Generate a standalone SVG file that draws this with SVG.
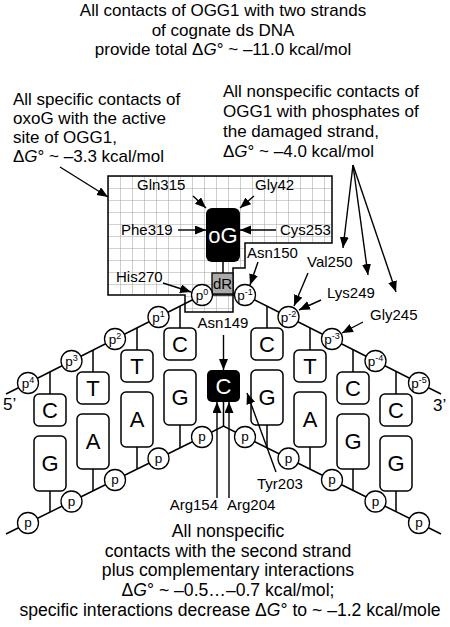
<svg xmlns="http://www.w3.org/2000/svg" width="450" height="627" viewBox="0 0 450 627">
<style>
text{font-family:"Liberation Sans",Arial,sans-serif;fill:#000}
.t{font-size:17px}
.tb{font-size:17.6px;text-anchor:middle}
.lab{font-size:15px}
.base{font-size:22px;text-anchor:middle}
.box{fill:#fff;stroke:#000;stroke-width:1.5}
.ph{fill:#fff;stroke:#000;stroke-width:1.3}
.pt{font-size:13.5px;text-anchor:middle}
.sup{font-size:9px}
.strand{fill:none;stroke:#000;stroke-width:1.5}
.arr{fill:none;stroke:#000;stroke-width:1.4;marker-end:url(#ah)}
</style>
<defs>
<marker id="ah" markerUnits="userSpaceOnUse" markerWidth="12" markerHeight="10" refX="11" refY="4.5" orient="auto">
<path d="M0,0 L11,4.5 L0,9 z" fill="#000"/>
</marker>
<pattern id="grid" patternUnits="userSpaceOnUse" x="108" y="176" width="12" height="12">
<rect width="12" height="12" fill="#fff"/>
<path d="M0,0 H12 M0,0 V12" stroke="#a6a6a6" stroke-width="1.1"/>
</pattern>
</defs>
<rect width="450" height="627" fill="#fff"/>

<g id="title">
<text class="t" x="223" y="16" text-anchor="middle">All contacts of OGG1 with two strands</text>
<text class="t" x="223" y="35.5" text-anchor="middle">of cognate ds DNA</text>
<text class="t" x="223" y="54.5" text-anchor="middle">provide total Δ<tspan font-style="italic">G</tspan>° ~ –11.0 kcal/mol</text>
</g>
<g id="specific-note">
<text class="t" x="13" y="105">All specific contacts of</text>
<text class="t" x="13" y="124">oxoG with the active</text>
<text class="t" x="13" y="143">site of OGG1,</text>
<text class="t" x="13" y="162">Δ<tspan font-style="italic">G</tspan>° ~ –3.3 kcal/mol</text>
</g>
<g id="nonspecific-note">
<text class="t" x="223" y="97">All nonspecific contacts of</text>
<text class="t" x="223" y="117">OGG1 with phosphates of</text>
<text class="t" x="223" y="137">the damaged strand,</text>
<text class="t" x="223" y="157">Δ<tspan font-style="italic">G</tspan>° ~ –4.0 kcal/mol</text>
</g>
<g id="second-strand-note">
<text class="tb" x="228" y="537">All nonspecific</text>
<text class="tb" x="228" y="557">contacts with the second strand</text>
<text class="tb" x="228" y="576">plus complementary interactions</text>
<text class="tb" x="228" y="596">Δ<tspan font-style="italic">G</tspan>° ~ –0.5…–0.7 kcal/mol;</text>
<text class="tb" x="230" y="616">specific interactions decrease Δ<tspan font-style="italic">G</tspan>° to ~ –1.2 kcal/mole</text>
</g>

<g id="active-site">
<path d="M108,176 H332 V243 H245 V268 H233 V312 H185 V295 H108 Z" fill="url(#grid)" stroke="#000" stroke-width="1.5"/>
</g>

<g id="strands">
<polyline class="strand" points="6,394 28,383 71.5,361 115,339 158.5,317 202,295 245,295 288.5,317 332,339 375.5,361 419,383 441,394"/>
<polyline class="strand" points="6,534 28,523 71.5,501.5 115,480 158.5,458.5 202,437 223.5,426 245,437 288.5,458.5 332,480 375.5,501.5 419,523 441,534"/>
<path class="strand" d="M180,306 V328 M137,328 V350 M93,350 V372 M50,372 V394 M267,306 V328 M310,328 V350 M353,350 V372 M396,372 V394"/>
<path class="strand" d="M180,425 V448 M137,447 V469 M93,469 V491 M50,491 V512 M267,425 V448 M310,447 V469 M353,469 V491 M396,491 V512 M223.5,402 V426"/>
<line class="strand" x1="223" y1="262" x2="223" y2="273"/>
</g>

<g id="oG">
<rect x="206" y="208" width="34" height="54" rx="6" fill="#000"/>
<text class="base" x="223" y="243" font-size="23" style="fill:#fff">oG</text>
</g>
<g id="dR">
<rect x="212" y="273" width="21" height="21" fill="#aaa" stroke="#000" stroke-width="1.3"/>
<text x="222.5" y="289" font-size="15" text-anchor="middle">dR</text>
</g>

<g id="bases-upper-left">
<rect class="box" x="164" y="328" width="32" height="32" rx="5"/><text class="base" x="180" y="352">C</text>
<rect class="box" x="121" y="350" width="32" height="32" rx="5"/><text class="base" x="137" y="374">T</text>
<rect class="box" x="77" y="372" width="32" height="32" rx="5"/><text class="base" x="93" y="396">T</text>
<rect class="box" x="34" y="394" width="32" height="32" rx="5"/><text class="base" x="50" y="418">C</text>
</g>
<g id="bases-upper-right">
<rect class="box" x="251" y="328" width="32" height="32" rx="5"/><text class="base" x="267" y="352">C</text>
<rect class="box" x="294" y="350" width="32" height="32" rx="5"/><text class="base" x="310" y="374">T</text>
<rect class="box" x="337" y="372" width="32" height="32" rx="5"/><text class="base" x="353" y="396">C</text>
<rect class="box" x="380" y="394" width="32" height="32" rx="5"/><text class="base" x="396" y="418">C</text>
</g>
<g id="bases-lower-left">
<rect class="box" x="164" y="370" width="32" height="55" rx="5"/><text class="base" x="180" y="405">G</text>
<rect class="box" x="121" y="392" width="32" height="55" rx="5"/><text class="base" x="137" y="427">A</text>
<rect class="box" x="77" y="414" width="32" height="55" rx="5"/><text class="base" x="93" y="449">A</text>
<rect class="box" x="34" y="436" width="32" height="55" rx="5"/><text class="base" x="50" y="471">G</text>
</g>
<g id="bases-lower-right">
<rect class="box" x="251" y="370" width="32" height="55" rx="5"/><text class="base" x="267" y="405">G</text>
<rect class="box" x="294" y="392" width="32" height="55" rx="5"/><text class="base" x="310" y="427">A</text>
<rect class="box" x="337" y="414" width="32" height="55" rx="5"/><text class="base" x="353" y="449">G</text>
<rect class="box" x="380" y="436" width="32" height="55" rx="5"/><text class="base" x="396" y="471">G</text>
</g>
<g id="C-opposite">
<rect x="207" y="370" width="33" height="32" rx="5" fill="#000"/>
<text class="base" x="223.5" y="394" style="fill:#fff">C</text>
</g>

<g id="phosphates-top">
<circle class="ph" cx="202" cy="295" r="10.5"/><text class="pt" x="202" y="299.5">p<tspan class="sup" dy="-5">0</tspan></text>
<circle class="ph" cx="158.5" cy="317" r="10.5"/><text class="pt" x="158.5" y="321.5">p<tspan class="sup" dy="-5">1</tspan></text>
<circle class="ph" cx="115" cy="339" r="10.5"/><text class="pt" x="115" y="343.5">p<tspan class="sup" dy="-5">2</tspan></text>
<circle class="ph" cx="71.5" cy="361" r="10.5"/><text class="pt" x="71.5" y="365.5">p<tspan class="sup" dy="-5">3</tspan></text>
<circle class="ph" cx="28" cy="383" r="10.5"/><text class="pt" x="28" y="387.5">p<tspan class="sup" dy="-5">4</tspan></text>
<circle class="ph" cx="245" cy="295" r="10.5"/><text class="pt" x="245" y="299.5">p<tspan class="sup" dy="-5">-1</tspan></text>
<circle class="ph" cx="288.5" cy="317" r="10.5"/><text class="pt" x="288.5" y="321.5">p<tspan class="sup" dy="-5">-2</tspan></text>
<circle class="ph" cx="332" cy="339" r="10.5"/><text class="pt" x="332" y="343.5">p<tspan class="sup" dy="-5">-3</tspan></text>
<circle class="ph" cx="375.5" cy="361" r="10.5"/><text class="pt" x="375.5" y="365.5">p<tspan class="sup" dy="-5">-4</tspan></text>
<circle class="ph" cx="419" cy="383" r="10.5"/><text class="pt" x="419" y="387.5">p<tspan class="sup" dy="-5">-5</tspan></text>
</g>
<g id="phosphates-bottom">
<circle class="ph" cx="202" cy="437" r="10.5"/><text class="pt" x="202" y="441">p</text>
<circle class="ph" cx="158.5" cy="458.5" r="10.5"/><text class="pt" x="158.5" y="462.5">p</text>
<circle class="ph" cx="115" cy="480" r="10.5"/><text class="pt" x="115" y="484">p</text>
<circle class="ph" cx="71.5" cy="501.5" r="10.5"/><text class="pt" x="71.5" y="505.5">p</text>
<circle class="ph" cx="28" cy="523" r="10.5"/><text class="pt" x="28" y="527">p</text>
<circle class="ph" cx="245" cy="437" r="10.5"/><text class="pt" x="245" y="441">p</text>
<circle class="ph" cx="288.5" cy="458.5" r="10.5"/><text class="pt" x="288.5" y="462.5">p</text>
<circle class="ph" cx="332" cy="480" r="10.5"/><text class="pt" x="332" y="484">p</text>
<circle class="ph" cx="375.5" cy="501.5" r="10.5"/><text class="pt" x="375.5" y="505.5">p</text>
<circle class="ph" cx="419" cy="523" r="10.5"/><text class="pt" x="419" y="527">p</text>
</g>
<g id="ends">
<text class="t" x="3" y="410">5’</text>
<text class="t" x="433" y="411">3’</text>
</g>

<g id="labels">
<text class="lab" x="137" y="190">Gln315</text>
<text class="lab" x="255" y="190">Gly42</text>
<text class="lab" x="121" y="235">Phe319</text>
<text class="lab" x="280" y="235">Cys253</text>
<text class="lab" x="116" y="282">His270</text>
<text class="lab" x="247" y="258">Asn150</text>
<text class="lab" x="307" y="267">Val250</text>
<text class="lab" x="327" y="298">Lys249</text>
<text class="lab" x="370" y="320">Gly245</text>
<text class="lab" x="223" y="328" text-anchor="middle">Asn149</text>
<text class="lab" x="218" y="510" text-anchor="end">Arg154</text>
<text class="lab" x="227" y="510">Arg204</text>
<text class="lab" x="257" y="489">Tyr203</text>
</g>

<g id="connectors">
<line class="arr" x1="60" y1="167" x2="108" y2="197"/>
<line class="arr" x1="353" y1="165" x2="343" y2="248"/>
<line class="arr" x1="353" y1="165" x2="368" y2="275"/>
<line class="arr" x1="353" y1="165" x2="396" y2="292"/>
<line class="arr" x1="193" y1="196" x2="206" y2="208"/>
<line class="arr" x1="254" y1="196" x2="240" y2="208"/>
<line class="arr" x1="178" y1="230" x2="206" y2="230"/>
<line class="arr" x1="276" y1="230" x2="240" y2="230"/>
<line class="arr" x1="163" y1="283" x2="191" y2="292"/>
<line class="arr" x1="258" y1="262" x2="250" y2="285"/>
<line class="arr" x1="308" y1="273" x2="294" y2="306"/>
<line class="arr" x1="321" y1="300" x2="299" y2="310"/>
<line class="arr" x1="363" y1="322" x2="342" y2="333"/>
<line class="arr" x1="223.5" y1="335" x2="223.5" y2="370"/>
<line class="arr" x1="217" y1="498" x2="217" y2="402"/>
<line class="arr" x1="229" y1="498" x2="229" y2="402"/>
<line class="arr" x1="276" y1="472" x2="247" y2="393"/>
</g>
</svg>
